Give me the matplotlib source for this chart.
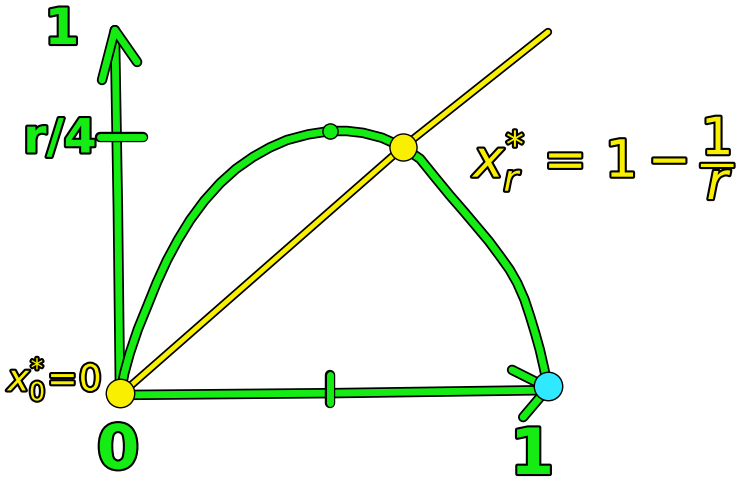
import numpy as np
import matplotlib.pyplot as plt
import matplotlib.patheffects as pe

# ------------------------------------------------------------
# Hand sketch of the logistic map f(x) = r x (1 - x)
# values (x in [0,1], y in [0,1])
# ------------------------------------------------------------
curve_x = [0.0, 0.010, 0.023, 0.042, 0.063, 0.086, 0.110, 0.136, 0.164,
           0.197, 0.234, 0.271, 0.311, 0.350, 0.390, 0.440, 0.491, 0.530,
           0.568, 0.612, 0.661, 0.701, 0.735, 0.771, 0.803, 0.834, 0.862,
           0.888, 0.910, 0.928, 0.945, 0.958, 0.970, 0.981, 0.991, 1.0]
curve_y = [0.0, 0.058, 0.112, 0.176, 0.235, 0.300, 0.360, 0.415, 0.467,
           0.518, 0.565, 0.603, 0.635, 0.660, 0.680, 0.695, 0.704, 0.704,
           0.699, 0.686, 0.661, 0.630, 0.582, 0.532, 0.490, 0.448, 0.410,
           0.370, 0.335, 0.299, 0.255, 0.210, 0.165, 0.120, 0.070, 0.019]

diag_x = [0.0, 0.661, 1.0]
diag_y = [0.0, 0.661, 0.968]

xaxis_x = [0.0, 0.5, 1.0]
xaxis_y = [0.0, 0.005, 0.013]
yaxis_x = [0.0, -0.005, -0.012]
yaxis_y = [0.0, 0.5, 0.973]

# arrow heads (barb end, tip, barb end)
yarrow_x = [-0.042, -0.012, 0.040]
yarrow_y = [0.840, 0.973, 0.888]
xarrow_x = [0.916, 1.0, 0.942]
xarrow_y = [0.067, 0.019, -0.059]

# tick marks
ytick_x = [-0.047, 0.054]
ytick_y = [0.688, 0.688]
xtick_x = [0.491, 0.491]
xtick_y = [0.053, -0.021]

peak = (0.491, 0.704)
fixed0 = (0.0, 0.005)
fixed_r = (0.661, 0.661)
one_pt = (1.0, 0.025)

GREEN = "#14ec14"
YELLOW = "#f8f000"
CYAN = "#30e8ff"


def outline(w):
    return [pe.Stroke(linewidth=w, foreground="black"), pe.Normal()]


def P(px_, py_):
    # pixel position in the picture -> data coordinates (labels only)
    return (px_ - 120) / 428, (395 - py_) / 375


fig = plt.figure(figsize=(7.55, 4.92), dpi=100)
ax = fig.add_axes([0, 0, 1, 1])
ax.set_xlim(-120 / 428, 635 / 428)
ax.set_ylim(-97 / 375, 395 / 375)
ax.axis("off")

green_kw = dict(color=GREEN, linewidth=5, solid_capstyle="round",
                solid_joinstyle="round", path_effects=outline(7.5))

ax.plot(xaxis_x, xaxis_y, **green_kw)
ax.plot(yaxis_x, yaxis_y, **green_kw)
ax.plot(yarrow_x, yarrow_y, **green_kw)
ax.plot(xarrow_x, xarrow_y, **green_kw)
ax.plot(ytick_x, ytick_y, **green_kw)
ax.plot(xtick_x, xtick_y, **green_kw)
ax.plot(curve_x, curve_y, **green_kw)

ax.plot(diag_x, diag_y, color=YELLOW, linewidth=3.5, solid_capstyle="round",
        path_effects=outline(6))

ax.scatter(*peak, s=120, color=GREEN, edgecolors="black", linewidths=1, zorder=5)
ax.scatter(*fixed0, s=420, color=YELLOW, edgecolors="black", linewidths=1, zorder=5)
ax.scatter(*fixed_r, s=380, color=YELLOW, edgecolors="black", linewidths=1, zorder=5)
ax.scatter(*one_pt, s=420, color=CYAN, edgecolors="black", linewidths=1, zorder=5)

# labels
txt_g = dict(color=GREEN, fontweight="bold", ha="center", va="center",
             path_effects=outline(3))
txt_y = dict(color=YELLOW, fontweight="bold", ha="center", va="center",
             path_effects=outline(3))

ax.text(*P(62, 30), "1", fontsize=36, **txt_g)
ax.text(*P(60, 140), "r/4", fontsize=34, **txt_g)
ax.text(*P(118, 452), "0", fontsize=44, **txt_g)
ax.text(*P(532, 456), "1", fontsize=46, **txt_g)

ax.text(*P(55, 380), r"$x_0^{*}\!=\!0$", fontsize=26, **txt_y)
ax.text(*P(605, 158), r"$x_r^{*}\,=\,1-\dfrac{1}{r}$", fontsize=37, **txt_y)

fig.savefig("out.png", dpi=100)
